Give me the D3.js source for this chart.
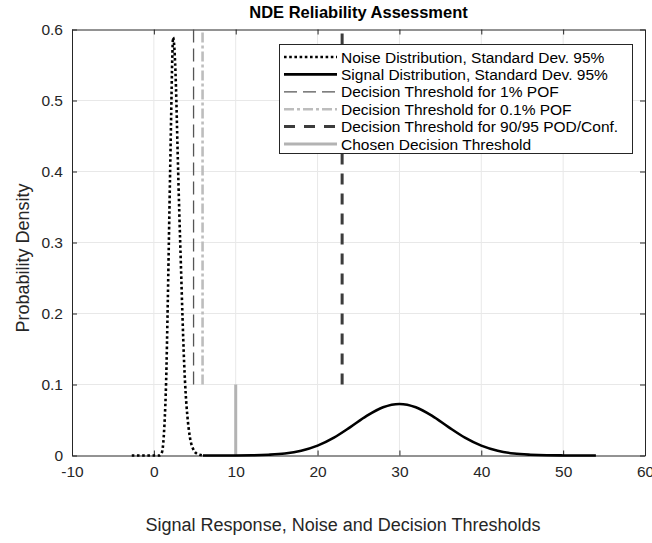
<!DOCTYPE html>
<html><head><meta charset="utf-8">
<script src="https://cdn.jsdelivr.net/npm/d3@7"></script>
<style>
body{margin:0;background:#fff}
svg{display:block}
text{font-family:"Liberation Sans",Arial,sans-serif}
</style>
</head><body>
<svg id="c" width="652" height="543"></svg>
<script>
// ---------- data ----------
const title = "NDE Reliability Assessment";
const xLabel = "Signal Response, Noise and Decision Thresholds";
const yLabel = "Probability Density";
const xTicks = [-10, 0, 10, 20, 30, 40, 50, 60];
const yTicks = [0, 0.1, 0.2, 0.3, 0.4, 0.5, 0.6];

const noiseX = [-2.7, -2, -1, 0, 0.6, 0.9, 1.1, 1.3, 1.5, 1.7, 1.9, 2.1, 2.25, 2.35, 2.5, 2.7, 2.9, 3.1, 3.3, 3.5, 3.7, 3.9, 4.1, 4.4, 4.8, 5.2, 5.6, 6.0];
const noiseY = [0, 0, 0, 0, 0, 0.002, 0.012, 0.045, 0.105, 0.215, 0.345, 0.47, 0.56, 0.589, 0.575, 0.52, 0.43, 0.345, 0.27, 0.195, 0.13, 0.085, 0.055, 0.026, 0.009, 0.003, 0.001, 0];

const signalX = [6, 8, 10, 12, 14, 16, 18, 20, 22, 24, 26, 28, 30, 32, 34, 36, 38, 40, 42, 44, 46, 48, 50, 52, 54];
const signalY = [0, 0, 0.0001, 0.0003, 0.0011, 0.0028, 0.0067, 0.0139, 0.0252, 0.040, 0.0557, 0.0679, 0.0725, 0.0679, 0.0557, 0.040, 0.0252, 0.0139, 0.0067, 0.0028, 0.0011, 0.0003, 0.0001, 0, 0];

const thresholdNames = ["Decision Threshold for 1% POF", "Decision Threshold for 0.1% POF", "Decision Threshold for 90/95 POD/Conf.", "Chosen Decision Threshold"];
const thresholdX  = [4.85, 5.95, 23, 10];
const thresholdY0 = [0.1, 0.1, 0.1, 0];
const thresholdY1 = [0.6, 0.6, 0.6, 0.1];

const seriesNames = ["Noise Distribution, Standard Dev. 95%", "Signal Distribution, Standard Dev. 95%"];

// ---------- styles ----------
const axisColor = "#262626";
const gridColor = "#e8e8e8";
const noiseStyle  = {stroke:"#000", width:2.6, dash:"2.6,2.6"};
const signalStyle = {stroke:"#000", width:2.6, dash:null};
const thrStyles = [
  {stroke:"#555555", width:1.3, dash:"13,6"},
  {stroke:"#bdbdbd", width:2.6, dash:"10,3,3,3"},
  {stroke:"#3c3c3c", width:3.0, dash:"11,9"},
  {stroke:"#b3b3b3", width:3.0, dash:null}
];
const tickFont = "15.5px";

// ---------- layout ----------
const L = 72, R = 645, T = 29.5, B = 455.5;
const svg = d3.select("#c");
const x = d3.scaleLinear().domain([-10, 60]).range([L, R]);
const y = d3.scaleLinear().domain([0, 0.6]).range([B, T]);

// grid
svg.append("g").selectAll("line").data(xTicks.slice(1, -1)).join("line")
  .attr("x1", d => x(d)).attr("x2", d => x(d)).attr("y1", T).attr("y2", B)
  .attr("stroke", gridColor).attr("stroke-width", 1);
svg.append("g").selectAll("line").data(yTicks.slice(1, -1)).join("line")
  .attr("y1", d => y(d)).attr("y2", d => y(d)).attr("x1", L).attr("x2", R)
  .attr("stroke", gridColor).attr("stroke-width", 1);

// axes
function styleAxis(g){
  g.select(".domain").attr("stroke", axisColor);
  g.selectAll(".tick line").attr("stroke", axisColor);
  g.selectAll(".tick text").attr("fill", axisColor).style("font-size", tickFont)
   .style("font-family", '"Liberation Sans",Arial,sans-serif');
}
svg.append("g").attr("transform", `translate(0,${B})`)
  .call(d3.axisBottom(x).tickValues(xTicks).tickFormat(d => String(d)).tickSizeInner(-5).tickSizeOuter(0).tickPadding(10))
  .call(styleAxis);
svg.append("g").attr("transform", `translate(${L},0)`)
  .call(d3.axisLeft(y).tickValues(yTicks).tickFormat(d => d === 0 ? "0" : d3.format(".1f")(d)).tickSizeInner(-5).tickSizeOuter(0).tickPadding(9))
  .call(styleAxis);
svg.append("g").attr("transform", `translate(0,${T})`)
  .call(d3.axisTop(x).tickValues(xTicks).tickFormat("").tickSizeInner(-5).tickSizeOuter(0))
  .call(styleAxis);
svg.append("g").attr("transform", `translate(${R},0)`)
  .call(d3.axisRight(y).tickValues(yTicks).tickFormat("").tickSizeInner(-5).tickSizeOuter(0))
  .call(styleAxis);

// curves
const line = d3.line().x(d => x(d[0])).y(d => y(d[1])).curve(d3.curveMonotoneX);
function drawPath(xs, ys, st){
  const p = svg.append("path").datum(xs.map((v, i) => [v, ys[i]]))
    .attr("d", line).attr("fill", "none")
    .attr("stroke", st.stroke).attr("stroke-width", st.width);
  if (st.dash) p.attr("stroke-dasharray", st.dash);
}
// thresholds
thresholdX.forEach((tx, i) => {
  const st = thrStyles[i];
  const l = svg.append("line")
    .attr("x1", x(tx)).attr("x2", x(tx)).attr("y1", y(thresholdY0[i])).attr("y2", y(thresholdY1[i]))
    .attr("stroke", st.stroke).attr("stroke-width", st.width);
  if (st.dash) l.attr("stroke-dasharray", st.dash);
});
drawPath(signalX, signalY, signalStyle);
drawPath(noiseX, noiseY, noiseStyle);

// title and labels
svg.append("text").attr("x", (L + R) / 2).attr("y", 18).attr("text-anchor", "middle")
  .style("font-size", "16.5px").style("font-weight", "bold").attr("fill", "#000").text(title);
svg.append("text").attr("x", 343).attr("y", 531).attr("text-anchor", "middle")
  .style("font-size", "18px").attr("fill", axisColor).text(xLabel);
svg.append("text").attr("transform", `translate(29,258) rotate(-90)`).attr("text-anchor", "middle")
  .style("font-size", "18px").attr("fill", axisColor).text(yLabel);

// legend
const legNames = seriesNames.concat(thresholdNames);
const legStyles = [noiseStyle, signalStyle].concat(thrStyles);
const lx = 279, ly = 44, lw = 353, rowH = 17.4;
const lh = 109;
svg.append("rect").attr("x", lx + 0.5).attr("y", ly + 0.5).attr("width", lw).attr("height", lh)
  .attr("fill", "#fff").attr("stroke", axisColor).attr("stroke-width", 1);
legNames.forEach((name, i) => {
  const cy = ly + 13 + i * rowH;
  const st = legStyles[i];
  const l = svg.append("line").attr("x1", lx + 5).attr("x2", lx + 58).attr("y1", cy).attr("y2", cy)
    .attr("stroke", st.stroke).attr("stroke-width", st.width);
  if (st.dash) l.attr("stroke-dasharray", st.dash);
  svg.append("text").attr("x", lx + 62).attr("y", cy + 5.5).style("font-size", "15.5px")
    .attr("fill", "#000").text(name);
});
</script>
</body></html>
